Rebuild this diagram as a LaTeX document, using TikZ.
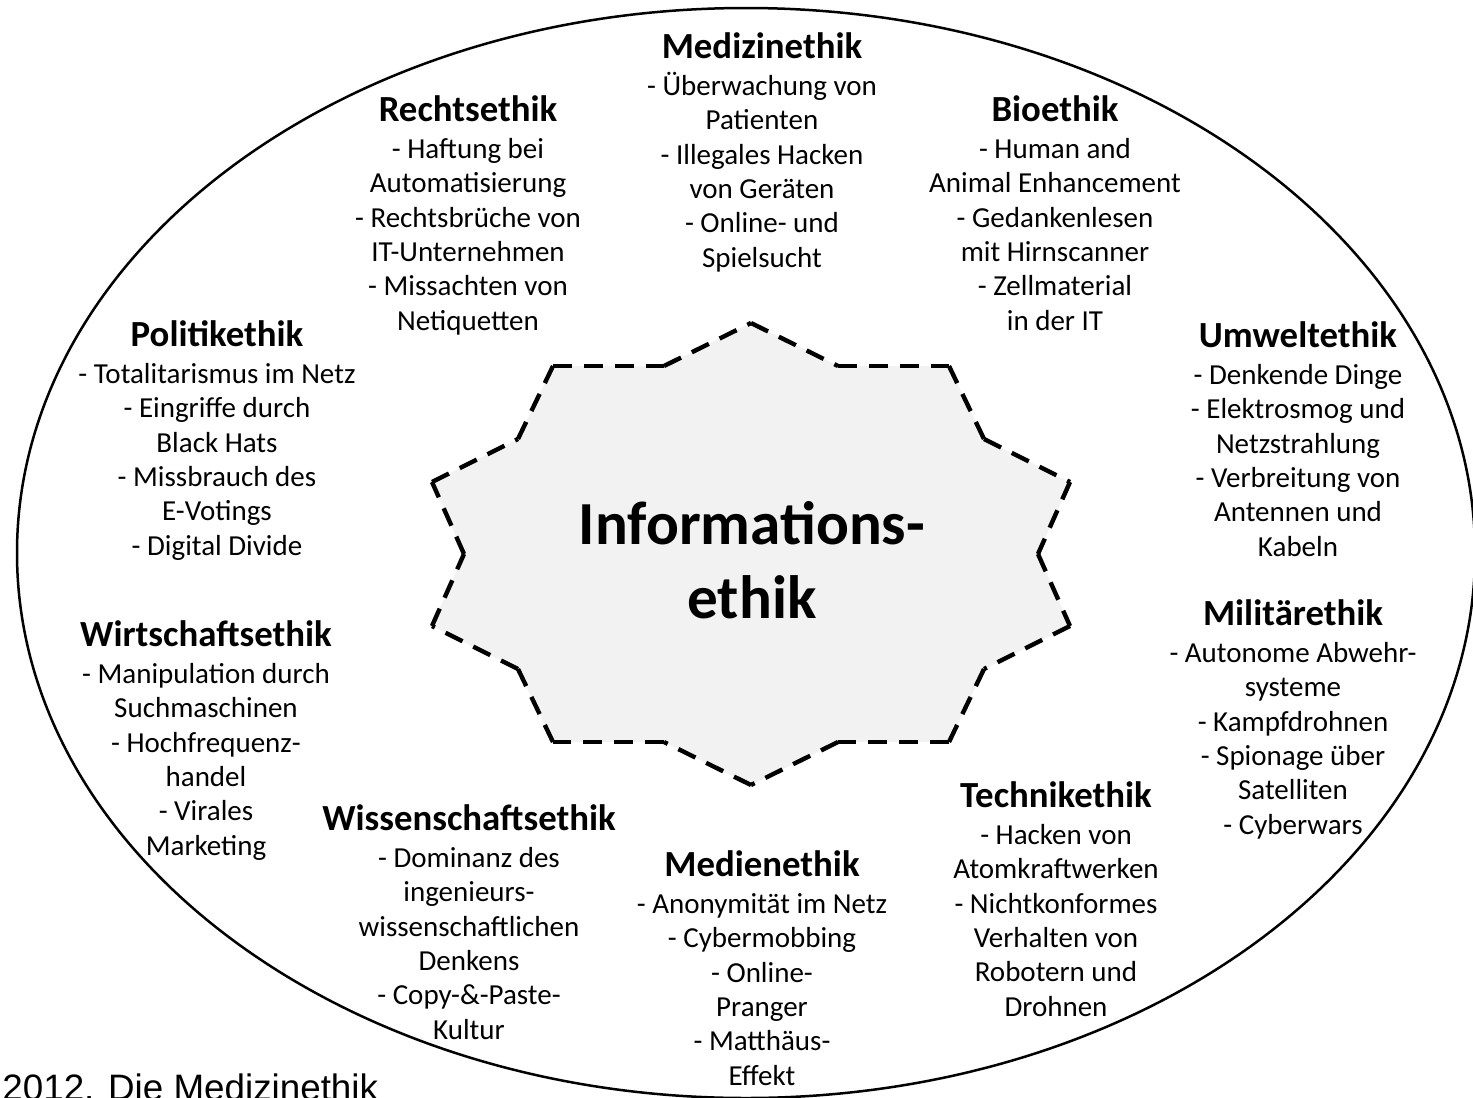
\documentclass[tikz,border=0pt]{standalone}
\usepackage{fontspec}
\setmainfont{Carlito}
\newfontfamily\arialfont{Liberation Sans}
\newcommand\hd[1]{{\fontsize{18.4}{18.5}\selectfont\bfseries #1}}
\begin{document}
\begin{tikzpicture}[x=0.5pt,y=-0.5pt,
  blk/.style={align=center, inner sep=0pt, anchor=north, font=\fontsize{14.5}{17.2}\selectfont},
  starline/.style={line width=2.2pt, dash pattern=on 9.5pt off 6pt},
  ring/.style={line width=1.25pt}]
\useasboundingbox (0,0) rectangle (1473,1098);
\fill[white] (0,0) rectangle (1473,1098);
\draw[ring] (746,553) ellipse [x radius=729, y radius=545];
% star
\begin{scope}[shift={(751,554)}]
\foreach \px/\py [count=\i] in {0/-231, 87/-188, 198/-188, 233/-115, 319/-72, 287/0,
  319/72, 233/115, 198/188, 87/188, 0/231, -87/188, -198/188,
  -233/115, -319/72, -287/0, -319/-72, -233/-115, -198/-188, -87/-188}
  \coordinate (s\i) at (\px,\py);
\end{scope}
\fill[black!5] (s1) -- (s2) -- (s3) -- (s4) -- (s5) -- (s6) -- (s7) -- (s8) -- (s9) -- (s10)
  -- (s11) -- (s12) -- (s13) -- (s14) -- (s15) -- (s16) -- (s17) -- (s18) -- (s19) -- (s20) -- cycle;
\foreach \i in {1,...,20} {
  \pgfmathtruncatemacro\j{mod(\i,20)+1}
  \draw[starline] (s\i) -- (s\j);
}
\node[align=center, inner sep=0pt, anchor=north, font=\fontsize{30.6}{37}\selectfont\bfseries] (center) at (752,501) {Informations-\\ethik};
\node[blk] (med) at (762,32) {\hd{Medizinethik}\\[1.3pt] - Überwachung von\\ Patienten\\ - Illegales Hacken\\ von Geräten\\ - Online- und\\ Spielsucht};
\node[blk] (recht) at (468,95) {\hd{Rechtsethik}\\[1.3pt] - Haftung bei\\ Automatisierung\\ - Rechtsbrüche von\\ IT-Unternehmen\\ - Missachten von\\ Netiquetten};
\node[blk] (bio) at (1055,95) {\hd{Bioethik}\\[1.3pt] - Human and\\ Animal Enhancement\\ - Gedankenlesen\\ mit Hirnscanner\\ - Zellmaterial\\ in der IT};
\node[blk] (pol) at (217,320) {\hd{Politikethik}\\[1.3pt] - Totalitarismus im Netz\\ - Eingriffe durch\\ Black Hats\\ - Missbrauch des\\ E-Votings\\ - Digital Divide};
\node[blk] (umw) at (1298,321) {\hd{Umweltethik}\\[1.3pt] - Denkende Dinge\\ - Elektrosmog und\\ Netzstrahlung\\ - Verbreitung von\\ Antennen und\\ Kabeln};
\node[blk] (wirt) at (206,620) {\hd{Wirtschaftsethik}\\[1.3pt] - Manipulation durch\\ Suchmaschinen\\ - Hochfrequenz-\\ handel\\ - Virales\\ Marketing};
\node[blk] (mil) at (1293,599) {\hd{Militärethik}\\[1.3pt] - Autonome Abwehr-\\ systeme\\ - Kampfdrohnen\\ - Spionage über\\ Satelliten\\ - Cyberwars};
\node[blk] (tech) at (1056,781) {\hd{Technikethik}\\[1.3pt] - Hacken von\\ Atomkraftwerken\\ - Nichtkonformes\\ Verhalten von\\ Robotern und\\ Drohnen};
\node[blk] (wiss) at (469,804) {\hd{Wissenschaftsethik}\\[1.3pt] - Dominanz des\\ ingenieurs-\\ wissenschaftlichen\\ Denkens\\ - Copy-\&-Paste-\\ Kultur};
\node[blk] (medien) at (762,850) {\hd{Medienethik}\\[1.3pt] - Anonymität im Netz\\ - Cybermobbing\\ - Online-\\ Pranger\\ - Matthäus-\\ Effekt};
\node[anchor=base west, inner sep=0pt, font=\arialfont\fontsize{18.4}{22}\selectfont] (src) at (2,1100) {2012. Die Medizinethik};
\end{tikzpicture}
\end{document}
